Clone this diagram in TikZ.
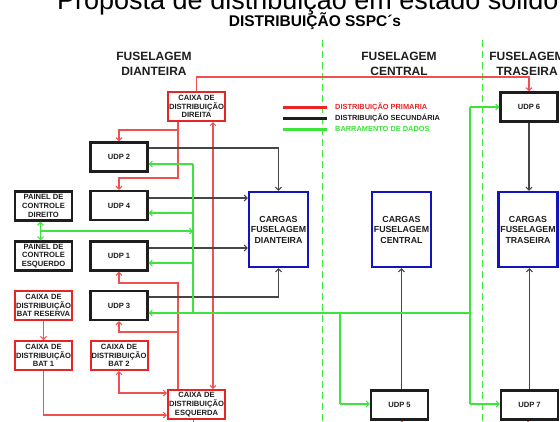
\documentclass[tikz,border=0pt]{standalone}
\usepackage{fontspec}
\setmainfont{Liberation Sans}
\usetikzlibrary{arrows.meta,calc}
\definecolor{pred}{RGB}{232,36,36}
\definecolor{lred}{RGB}{240,80,80}
\definecolor{pgreen}{RGB}{60,228,60}
\definecolor{pblue}{RGB}{20,20,190}
\definecolor{pblack}{RGB}{30,30,30}
\definecolor{lgray}{RGB}{70,70,70}
\begin{document}
\begin{tikzpicture}[x=1pt,y=-1pt,
 >={Straight Barb[length=3pt,width=6pt,line width=1pt]},
 base/.style={minimum width=57pt, minimum height=29pt, inner sep=0pt, align=center, text=pblack, font=\bfseries\fontsize{7.6}{8.8}\selectfont},
 udpbox/.style={base, draw=pblack, line width=2.2pt},
 caixabox/.style={base, draw=pred, line width=2pt},
 cargabox/.style={base, draw=pblue, line width=2.4pt, minimum width=59pt, minimum height=75pt, font=\bfseries\fontsize{8.8}{10.5}\selectfont},
 pri/.style={lred, line width=1.2pt},
 sec/.style={lgray, line width=1.1pt},
 dat/.style={pgreen, line width=1.2pt},
 zone/.style={pgreen, line width=0.8pt, dash pattern=on 7pt off 4pt},
 hdr/.style={font=\bfseries\fontsize{12}{15}\selectfont, align=center, text=pblack, inner sep=0pt},
 leg/.style={anchor=west, inner sep=0pt, font=\bfseries\fontsize{7.4}{8}\selectfont},
]
\clip (0,0) rectangle (560,421);
\fill[white] (0,0) rectangle (560,421);

% titles
\node[anchor=base west, inner sep=0pt, font=\fontsize{27}{27}\selectfont] (title) at (57,9.5) {Proposta de distribuição em estado sólido};
\node[anchor=base, inner sep=0pt, font=\bfseries\fontsize{15.5}{16}\selectfont] (subtitle) at (315,26) {DISTRIBUIÇÃO SSPC´s};
\node[hdr] (h1) at (154,63.5) {FUSELAGEM\\DIANTEIRA};
\node[hdr] (h2) at (399,63.5) {FUSELAGEM\\CENTRAL};
\node[hdr] (h3) at (527,63.5) {FUSELAGEM\\TRASEIRA};

% zone separators
\coordinate (z1t) at (322,40); \coordinate (z1b) at (322,421);
\coordinate (z2t) at (482,40); \coordinate (z2b) at (482,421);
\draw[zone] (z1t) -- (z1b);
\draw[zone] (z2t) -- (z2b);

% legend
\coordinate (l1a) at (283,107); \coordinate (l1b) at (327,107);
\coordinate (l2a) at (283,118); \coordinate (l2b) at (327,118);
\coordinate (l3a) at (283,129); \coordinate (l3b) at (327,129);
\draw[pred, line width=3pt] (l1a) -- (l1b);
\draw[pblack, line width=3pt] (l2a) -- (l2b);
\draw[pgreen, line width=3pt] (l3a) -- (l3b);
\node[leg, text=pred] (t1) at (335,107) {DISTRIBUIÇÃO PRIMARIA};
\node[leg, text=pblack] (t2) at (335,118) {DISTRIBUIÇÃO SECUNDÁRIA};
\node[leg, text=pgreen] (t3) at (335,129) {BARRAMENTO DE DADOS};

% boxes
\node[caixabox] (cxd) at (196.5,106.5) {CAIXA DE\\DISTRIBUIÇÃO\\DIREITA};
\node[udpbox] (udp2) at (119,157) {UDP 2};
\node[udpbox] (udp4) at (119,205.5) {UDP 4};
\node[udpbox] (pd) at (43.5,206) {PAINEL DE\\CONTROLE\\DIREITO};
\node[udpbox] (pe) at (43.5,256) {PAINEL DE\\CONTROLE\\ESQUERDO};
\node[udpbox] (udp1) at (119,256) {UDP 1};
\node[caixabox] (bres) at (43.5,305.5) {CAIXA DE\\DISTRIBUIÇÃO\\BAT RESERVA};
\node[udpbox] (udp3) at (119,305.5) {UDP 3};
\node[caixabox] (bat1) at (43.5,355.5) {CAIXA DE\\DISTRIBUIÇÃO\\BAT 1};
\node[caixabox] (bat2) at (119,355.5) {CAIXA DE\\DISTRIBUIÇÃO\\BAT 2};
\node[caixabox] (cxe) at (196.5,404.5) {CAIXA DE\\DISTRIBUIÇÃO\\ESQUERDA};
\node[cargabox] (cd) at (278.5,229.5) {CARGAS\\FUSELAGEM\\DIANTEIRA};
\node[cargabox] (cc) at (401.5,229.5) {CARGAS\\FUSELAGEM\\CENTRAL};
\node[cargabox] (ct) at (528,229.5) {CARGAS\\FUSELAGEM\\TRASEIRA};
\node[udpbox] (udp6) at (529,107) {UDP 6};
\node[udpbox] (udp5) at (399.5,405) {UDP 5};
\node[udpbox] (udp7) at (529.5,405) {UDP 7};

% primary distribution (red)
\coordinate (rx1) at (178,0);
\coordinate (rx2) at (213,0);
\draw[pri,->] (cxd.north) -- ++(0,-14) -| (udp6.north);
\draw[pri,->] (cxd.south -| rx1) -- ++(0,8) -| (udp2.north);
\draw[pri,->] (cxd.south -| rx1) -- ++(0,56) -| (udp4.north);
\draw[pri,<->] (cxd.south -| rx2) -- (cxe.north -| rx2);
\draw[pri,->] (cxe.north -| rx1) -- ++(0,-106) -| (udp1.south);
\draw[pri,->] (cxe.north -| rx1) -- ++(0,-57) -| (udp3.south);
\draw[pri,->] (bres.south) -- (bat1.north);
\draw[pri,->] (bat1.south) |- ($(cxe.west)+(0,10.5)$);
\draw[pri,<->] (bat2.south) |- ($(cxe.west)+(0,-11.5)$);
\draw[pri] ($(cxe.south)+(-3,0)$) -- ++(0,6);
\draw[pri] ($(udp5.south)+(2.5,0)$) -- ++(0,6);
\draw[pri] ($(udp7.south)+(-1.5,0)$) -- ++(0,6);

% secondary distribution (black)
\draw[sec,->] ($(udp2.east)+(0,-9)$) -| (cd.north);
\coordinate (b4) at ($(udp4.east)+(0,-7.5)$);
\draw[sec,->] (b4) -- (b4 -| cd.west);
\coordinate (b1) at ($(udp1.east)+(0,-8)$);
\draw[sec,->] (b1) -- (b1 -| cd.west);
\draw[sec,->] ($(udp3.east)+(0,-8.5)$) -| (cd.south);
\draw[sec,->] (udp6.south) -- (udp6.south |- ct.north);
\draw[sec,->] (udp5.north -| cc.south) -- (cc.south);
\draw[sec,->] (udp7.north) -- (udp7.north |- ct.south);

% data bus (green)
\coordinate (gA) at (193,164);
\coordinate (gB) at (193,213);
\coordinate (gC) at (193,231);
\coordinate (gD) at (193,263);
\coordinate (gE) at (193,313);
\coordinate (gF) at (340,313);
\coordinate (gG) at (470,313);
\coordinate (gH) at (470,107);
\coordinate (gI) at (340,404);
\coordinate (gJ) at (470,404);
\coordinate (pdb) at ($(pd.south)+(-3,0)$);
\coordinate (pet) at ($(pe.north)+(-3,0)$);
\draw[dat] (gA) -- (gE) -- (gG);
\draw[dat,->] (gA) -- (gA -| udp2.east);
\draw[dat,->] (gB) -- (gB -| udp4.east);
\draw[dat,->] (gD) -- (gD -| udp1.east);
\draw[dat,->] (gE) -- (gE -| udp3.east);
\draw[dat,->] (gH) -- (gH -| udp6.west);
\draw[dat] (gH) -- (gJ);
\draw[dat,->] (gJ) -- (gJ -| udp7.west);
\draw[dat] (gF) -- (gI);
\draw[dat,->] (gI) -- (gI -| udp5.west);
\draw[dat,<->] (pdb) -- (pet);
\draw[dat,->] (pdb |- gC) -- (gC);
\end{tikzpicture}
\end{document}
